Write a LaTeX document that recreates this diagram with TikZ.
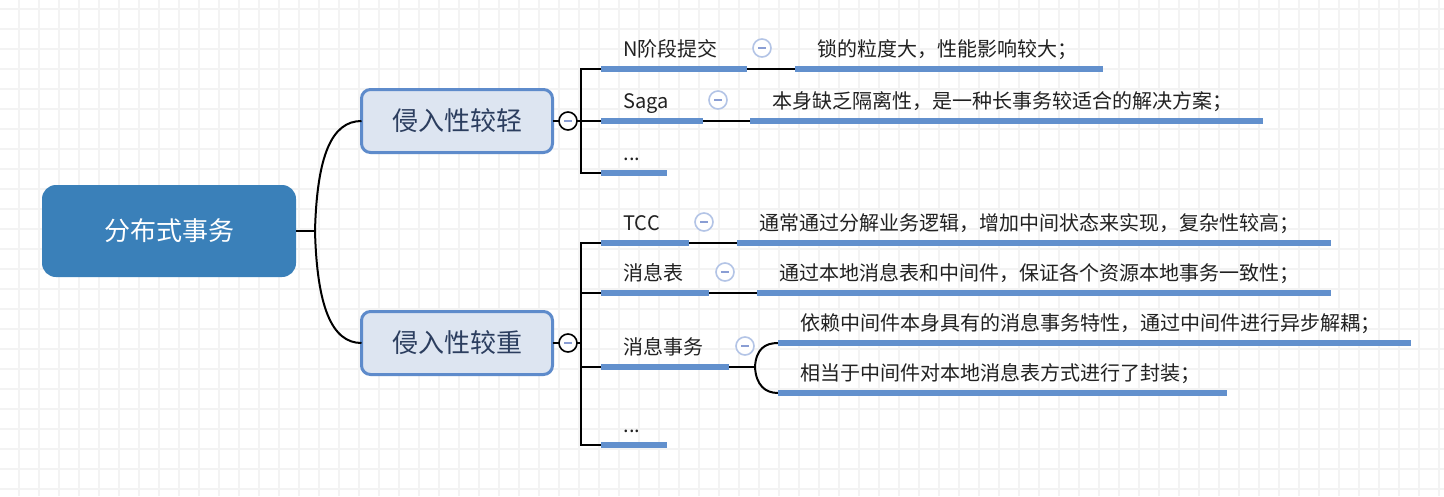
\documentclass[tikz,border=0pt]{standalone}
\usepackage{fontspec}
\newfontfamily\cjk{Noto Sans CJK SC}
\usepackage{tikz}

\definecolor{rootblue}{HTML}{3A80B9}
\definecolor{subfill}{HTML}{DDE5F1}
\definecolor{subline}{HTML}{5E8BCB}
\definecolor{subtext}{HTML}{2C3E5F}
\definecolor{barblue}{HTML}{6290CD}
\definecolor{foldline}{HTML}{B3C4E6}
\definecolor{foldminus}{HTML}{8A9ED4}
\definecolor{gridgray}{HTML}{F3F3F3}

\begin{document}
\begin{tikzpicture}[
		x=1pt, y=-1pt,
		every node/.style={font=\cjk, outer sep=0pt},
		root/.style={rectangle, rounded corners=14pt, fill=rootblue, text=white, minimum width=254pt, minimum height=92pt, font=\cjk\fontsize{26pt}{31pt}\selectfont},
		sub/.style={rectangle, rounded corners=9pt, draw=subline, line width=3pt, fill=subfill, text=subtext, minimum width=191pt, minimum height=63pt, font=\cjk\fontsize{26pt}{31pt}\selectfont},
		topic/.style={anchor=south west, inner xsep=22.5pt, inner ysep=8pt, text height=15pt, text depth=5pt, align=left, text=black!87, font=\cjk\fontsize{20pt}{24pt}\selectfont},
		conn/.style={draw=black, line width=2pt},
		bar/.style={draw=barblue, line width=6pt},
		fold/.style={circle, draw=black, line width=1.6pt, fill=white, minimum size=18pt, inner sep=0pt,
			path picture={\draw[foldminus, line width=2pt] ([xshift=-4pt]path picture bounding box.center) -- ([xshift=4pt]path picture bounding box.center);}},
		minor fold/.style={fold, draw=foldline}
	]
  \useasboundingbox (0,0) rectangle (1444,496);
  \fill[white] (0,0) rectangle (1444,496);
  \draw[gridgray, line width=1.5pt, step=20pt, shift={(19,9)}] (-19,-9) grid (1425,487);

  % central topic and the two main branches
  \node[root] (root) at (169,231) {分布式事务};
  \node[sub] (light) at (457,121) {侵入性较轻};
  \node[sub] (heavy) at (457,343) {侵入性较重};
  \coordinate (rootfork) at (315,231);
  \coordinate (lightbar) at (581,121);
  \coordinate (heavybar) at (581,343);
  \coordinate (msgfork) at (755,367);

  % light branch
  \node[topic, text width=101pt] (t2pc) at (601,69) {N阶段提交};
  \node[topic, text width=263pt] (d2pc) at (795,69) {锁的粒度大，性能影响较大；};
  \node[topic, text width=57pt] (tsaga) at (601,121) {Saga};
  \node[topic, text width=468pt] (dsaga) at (750,121) {本身缺乏隔离性，是一种长事务较适合的解决方案；};
  \node[topic, text width=21pt] (tmore1) at (601,173) {...};

  % heavy branch
  \node[topic, text width=43pt] (ttcc) at (601,243) {TCC};
  \node[topic, text width=549pt] (dtcc) at (737,243) {通常通过分解业务逻辑，增加中间状态来实现，复杂性较高；};
  \node[topic, text width=63pt] (tmsgtab) at (601,293) {消息表};
  \node[topic, text width=529pt] (dmsgtab) at (757,293) {通过本地消息表和中间件，保证各个资源本地事务一致性；};
  \node[topic, text width=83pt] (tmsgtx) at (601,367) {消息事务};
  \node[topic, text width=588pt] (dmsgtx1) at (778,343) {依赖中间件本身具有的消息事务特性，通过中间件进行异步解耦；};
  \node[topic, text width=404pt] (dmsgtx2) at (778,393) {相当于中间件对本地消息表方式进行了封装；};
  \node[topic, text width=21pt] (tmore2) at (601,445) {...};

  % connectors
  \draw[conn] (root.east) -- (rootfork);
  \draw[conn] (rootfork) .. controls +(2,-75) and +(-30,0) .. (light.west);
  \draw[conn] (rootfork) .. controls +(2,75) and +(-30,0) .. (heavy.west);

  \draw[conn] (light.east) -- (lightbar);
  \draw[conn] (t2pc.south west) -| (lightbar) |- (tmore1.south west);
  \draw[conn] (lightbar) -- (tsaga.south west);
  \draw[conn] (t2pc.south east) -- (d2pc.south west);
  \draw[conn] (tsaga.south east) -- (dsaga.south west);

  \draw[conn] (heavy.east) -- (heavybar);
  \draw[conn] (ttcc.south west) -| (heavybar) |- (tmore2.south west);
  \draw[conn] (heavybar |- tmsgtab.south west) -- (tmsgtab.south west);
  \draw[conn] (heavybar |- tmsgtx.south west) -- (tmsgtx.south west);
  \draw[conn] (ttcc.south east) -- (dtcc.south west);
  \draw[conn] (tmsgtab.south east) -- (dmsgtab.south west);
  \draw[conn] (tmsgtx.south east) -- (msgfork);
  \draw[conn] (msgfork) .. controls +(1,-18) and +(-13,0) .. (dmsgtx1.south west);
  \draw[conn] (msgfork) .. controls +(1,18) and +(-13,0) .. (dmsgtx2.south west);

  % underlines
  \draw[bar] (t2pc.south west) -- (t2pc.south east);
  \draw[bar] (d2pc.south west) -- (d2pc.south east);
  \draw[bar] (tsaga.south west) -- (tsaga.south east);
  \draw[bar] (dsaga.south west) -- (dsaga.south east);
  \draw[bar] (tmore1.south west) -- (tmore1.south east);
  \draw[bar] (ttcc.south west) -- (ttcc.south east);
  \draw[bar] (dtcc.south west) -- (dtcc.south east);
  \draw[bar] (tmsgtab.south west) -- (tmsgtab.south east);
  \draw[bar] (dmsgtab.south west) -- (dmsgtab.south east);
  \draw[bar] (tmsgtx.south west) -- (tmsgtx.south east);
  \draw[bar] (dmsgtx1.south west) -- (dmsgtx1.south east);
  \draw[bar] (dmsgtx2.south west) -- (dmsgtx2.south east);
  \draw[bar] (tmore2.south west) -- (tmore2.south east);

  % collapse buttons
  \node[fold] (lightfold) at (568,121) {};
  \node[fold] (heavyfold) at (568,343) {};
  \node[minor fold] (f2pc) at (762,48) {};
  \node[minor fold] (fsaga) at (718,100) {};
  \node[minor fold] (ftcc) at (704,222) {};
  \node[minor fold] (fmsgtab) at (725,272) {};
  \node[minor fold] (fmsgtx) at (745,346) {};
\end{tikzpicture}
\end{document}
